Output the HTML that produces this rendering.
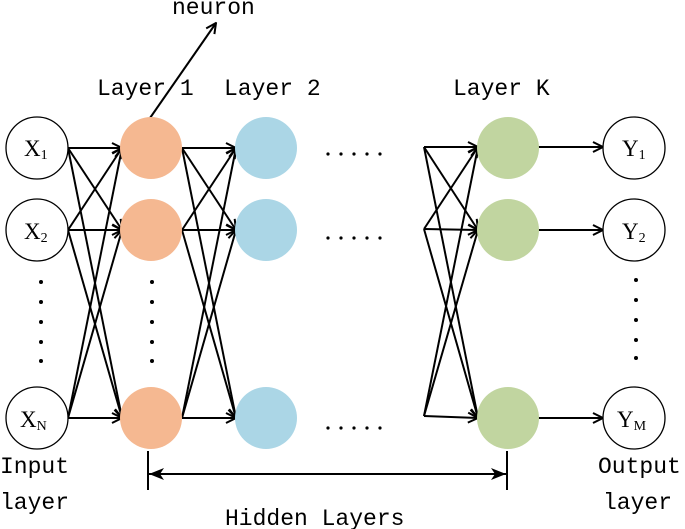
<!DOCTYPE html>
<html><head><meta charset="utf-8"><style>body{margin:0;background:#fff}svg{display:block}.m{font-family:"Liberation Mono",monospace;font-size:23px;fill:#000}.s{font-family:"Liberation Serif",serif;font-size:23px;fill:#000}.s tspan{font-size:14px}</style></head><body>
<svg width="685" height="529" viewBox="0 0 685 529" xmlns="http://www.w3.org/2000/svg">
<defs>
<marker id="a" markerWidth="12" markerHeight="12" refX="11" refY="6" orient="auto" markerUnits="userSpaceOnUse"><path d="M1,1 L11,6 L1,11" fill="none" stroke="#000" stroke-width="2"/></marker>
<marker id="f" markerWidth="16" markerHeight="14" refX="15" refY="7" orient="auto-start-reverse" markerUnits="userSpaceOnUse"><path d="M0,1 L15,7 L0,13 L4,7 Z" fill="#000"/></marker>
</defs>
<g stroke="#000" stroke-width="2" fill="none" marker-end="url(#a)">
<path d="M68,148 L122,148"/><path d="M68,148 L122,230"/><path d="M68,148 L122,418"/>
<path d="M68,230 L122,148"/><path d="M68,230 L122,230"/><path d="M68,230 L122,418"/>
<path d="M68,418 L122,148"/><path d="M68,418 L122,230"/><path d="M68,418 L122,418"/>
<path d="M182,148 L236,148"/><path d="M182,148 L236,230"/><path d="M182,148 L236,418"/>
<path d="M182,230 L236,148"/><path d="M182,230 L236,230"/><path d="M182,230 L236,418"/>
<path d="M182,418 L236,148"/><path d="M182,418 L236,230"/><path d="M182,418 L236,418"/>
<path d="M424,147 L478,147"/><path d="M424,147 L478,230"/><path d="M424,147 L478,418"/>
<path d="M424,229 L478,147"/><path d="M424,229 L478,230"/><path d="M424,229 L478,418"/>
<path d="M424,416 L478,147"/><path d="M424,416 L478,230"/><path d="M424,416 L478,418"/>
<path d="M538,147 L603,147"/><path d="M538,230 L603,230"/><path d="M538,418 L603,418"/>
<path d="M150,118 L216,23"/>
</g>
<g stroke="#000" stroke-width="1.3" fill="#fff">
<circle cx="37" cy="148" r="31"/><circle cx="37" cy="230" r="31"/><circle cx="37" cy="418" r="31"/>
<circle cx="634" cy="148" r="31"/><circle cx="634" cy="230" r="31"/><circle cx="634" cy="418" r="31"/>
</g>
<g fill="#f5b891"><circle cx="151" cy="148" r="31"/><circle cx="151" cy="230" r="31"/><circle cx="151" cy="418" r="31"/></g>
<g fill="#abd6e6"><circle cx="266" cy="148" r="31"/><circle cx="266" cy="230" r="31"/><circle cx="266" cy="418" r="31"/></g>
<g fill="#c1d5a0"><circle cx="508" cy="148" r="31"/><circle cx="508" cy="230" r="31"/><circle cx="508" cy="418" r="31"/></g>
<text class="s" x="24" y="156">X<tspan dy="3">1</tspan></text>
<text class="s" x="24" y="239">X<tspan dy="3">2</tspan></text>
<text class="s" x="20" y="427">X<tspan dy="3">N</tspan></text>
<text class="s" x="622" y="156">Y<tspan dy="3">1</tspan></text>
<text class="s" x="622" y="239">Y<tspan dy="3">2</tspan></text>
<text class="s" x="617" y="427">Y<tspan dy="3">M</tspan></text>
<g fill="#000">
<circle cx="41" cy="282" r="2"/><circle cx="41" cy="302" r="2"/><circle cx="41" cy="322" r="2"/><circle cx="41" cy="342" r="2"/><circle cx="41" cy="361" r="2"/>
<circle cx="152" cy="282" r="2"/><circle cx="152" cy="302" r="2"/><circle cx="152" cy="322" r="2"/><circle cx="152" cy="342" r="2"/><circle cx="152" cy="361" r="2"/>
<circle cx="636" cy="280" r="2"/><circle cx="636" cy="300" r="2"/><circle cx="636" cy="320" r="2"/><circle cx="636" cy="340" r="2"/><circle cx="636" cy="358" r="2"/>
<circle cx="328" cy="154" r="1.6"/><circle cx="341" cy="154" r="1.6"/><circle cx="354" cy="154" r="1.6"/><circle cx="367" cy="154" r="1.6"/><circle cx="380" cy="154" r="1.6"/>
<circle cx="328" cy="238" r="1.6"/><circle cx="341" cy="238" r="1.6"/><circle cx="354" cy="238" r="1.6"/><circle cx="367" cy="238" r="1.6"/><circle cx="380" cy="238" r="1.6"/>
<circle cx="328" cy="428" r="1.6"/><circle cx="341" cy="428" r="1.6"/><circle cx="354" cy="428" r="1.6"/><circle cx="367" cy="428" r="1.6"/><circle cx="380" cy="428" r="1.6"/>
</g>
<g stroke="#000" stroke-width="2" fill="none">
<path d="M148,451 L148,490"/><path d="M507,451 L507,490"/>
<path d="M149,474 L506,474" marker-end="url(#f)" marker-start="url(#f)"/>
</g>
<text class="m" x="172" y="14">neuron</text>
<text class="m" x="97" y="95">Layer 1</text>
<text class="m" x="224" y="95">Layer 2</text>
<text class="m" x="453" y="95">Layer K</text>
<text class="m" x="0" y="473">Input</text>
<text class="m" x="0" y="509">layer</text>
<text class="m" x="598" y="473">Output</text>
<text class="m" x="603" y="509">layer</text>
<text class="m" x="225" y="525">Hidden Layers</text>
</svg>
</body></html>
